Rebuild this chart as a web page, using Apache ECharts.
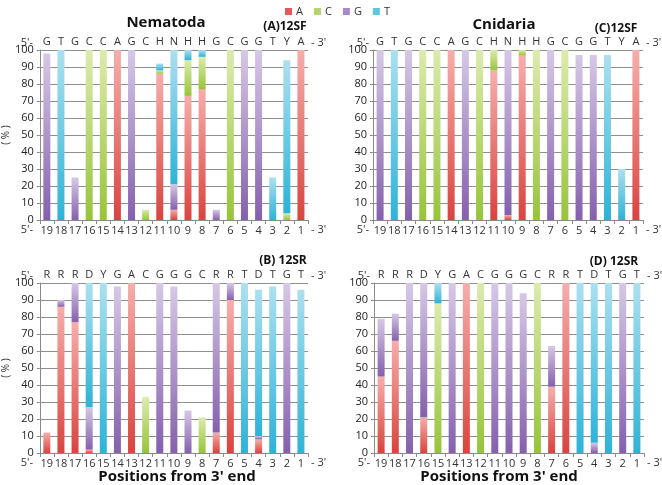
<!DOCTYPE html>
<html><head><meta charset="utf-8">
<script src="https://cdn.jsdelivr.net/npm/echarts@6/dist/echarts.min.js"></script>
<style>html,body{margin:0;padding:0;background:#fff}#c{width:662px;height:485px}</style>
</head><body><div id="c"></div>
<script>
const positions = ['19','18','17','16','15','14','13','12','11','10','9','8','7','6','5','4','3','2','1'];
const seqSF = ['G','T','G','C','C','A','G','C','H','N','H','H','G','C','G','G','T','Y','A'];
const seqSR = ['R','R','R','D','Y','G','A','C','G','G','G','C','R','R','T','D','T','G','T'];
const yTicks = [0,10,20,30,40,50,60,70,80,90,100];
const bases = ['A','C','G','T'];

// (A) Nematoda 12SF
const nemSF_A = [0,0,0,0,0,100,0,0,86,6,73,77,0,0,0,0,0,0,100];
const nemSF_C = [0,0,0,100,100,0,0,6,2,0,21,19,0,100,0,0,0,4,0];
const nemSF_G = [98,0,25,0,0,0,100,0,0,15,0,0,6,0,100,100,0,0,0];
const nemSF_T = [0,100,0,0,0,0,0,0,4,79,6,4,0,0,0,0,25,90,0];
// (C) Cnidaria 12SF
const cniSF_A = [0,0,0,0,0,100,0,0,88,3,97,0,0,0,0,0,0,0,100];
const cniSF_C = [0,0,0,100,100,0,0,100,12,0,3,100,0,100,0,0,0,0,0];
const cniSF_G = [100,0,100,0,0,0,100,0,0,97,0,0,100,0,97,97,0,0,0];
const cniSF_T = [0,100,0,0,0,0,0,0,0,0,0,0,0,0,0,0,97,30,0];
// (B) Nematoda 12SR
const nemSR_A = [12,86,77,2,0,0,100,0,0,0,0,0,12,90,0,8,0,0,0];
const nemSR_C = [0,0,0,0,0,0,0,33,0,0,0,21,0,0,0,0,0,0,0];
const nemSR_G = [0,4,23,25,0,98,0,0,100,98,25,0,88,10,0,2,0,100,0];
const nemSR_T = [0,0,0,73,100,0,0,0,0,0,0,0,0,0,100,86,98,0,96];
// (D) Cnidaria 12SR
const cniSR_A = [45,66,0,21,0,0,100,0,0,0,0,0,39,100,0,0,0,0,0];
const cniSR_C = [0,0,0,0,88,0,0,100,0,0,0,100,0,0,0,0,0,0,0];
const cniSR_G = [34,16,100,79,0,100,0,0,100,100,94,0,24,0,0,6,0,100,0];
const cniSR_T = [0,0,0,0,12,0,0,0,0,0,0,0,0,0,100,94,100,0,100];

const FONT = '"Open Sans", "DejaVu Sans", sans-serif';
const colTop = {A:'#f6aeab', C:'#dcebad', G:'#d6c8e6', T:'#ace0f0'};
const colBot = {A:'#d9443f', C:'#97c43a', G:'#8560ad', T:'#2db3d7'};
const colLegend = {A:'#e05a5a', C:'#b5d56a', G:'#a48ac8', T:'#5fc6e2'};

const panels = [
  {grid:{left:37, top:50, width:271, height:170}, seq:seqSF, data:[nemSF_A,nemSF_C,nemSF_G,nemSF_T], pct:true,
   title:'Nematoda', tx:166, ty:23, sub:'(A)12SF', sx:285, sy:27},
  {grid:{left:373, top:50, width:270, height:170}, seq:seqSF, data:[cniSF_A,cniSF_C,cniSF_G,cniSF_T], pct:false,
   title:'Cnidaria', tx:504, ty:25, sub:'(C)12SF', sx:616, sy:29},
  {grid:{left:37, top:283, width:271, height:170}, seq:seqSR, data:[nemSR_A,nemSR_C,nemSR_G,nemSR_T], pct:true,
   sub:'(B) 12SR', sx:283, sy:261, xname:true, nx:177},
  {grid:{left:374, top:283, width:270, height:170}, seq:seqSR, data:[cniSR_A,cniSR_C,cniSR_G,cniSR_T], pct:false,
   sub:'(D) 12SR', sx:614, sy:262, xname:true, nx:499}
];

const grids=[], xAxes=[], yAxes=[], series=[], graphics=[];
panels.forEach((p,i)=>{
  grids.push(p.grid);
  xAxes.push({type:'category', gridIndex:i, data:positions, position:'bottom',
    axisLine:{show:true, lineStyle:{color:'#8a8a8a', width:1}},
    axisTick:{show:true, length:4, lineStyle:{color:'#8a8a8a'}},
    axisLabel:{color:'#333', fontSize:11, fontFamily:FONT, margin:5, interval:0}});
  xAxes.push({type:'category', gridIndex:i, data:p.seq, position:'top',
    axisLine:{show:false}, axisTick:{show:false},
    axisLabel:{color:'#333', fontSize:11, fontFamily:FONT, margin:3, interval:0}});
  yAxes.push({type:'value', gridIndex:i, min:0, max:100, interval:10,
    name: p.pct ? '( % )' : '', nameLocation:'middle', nameRotate:90, nameGap:28,
    nameTextStyle:{color:'#333', fontSize:10, fontFamily:FONT},
    axisLine:{show:true, lineStyle:{color:'#8a8a8a', width:1}},
    axisTick:{show:true, length:3, lineStyle:{color:'#8a8a8a'}},
    splitLine:{show:true, lineStyle:{color:'#8f8f8f', width:1}},
    axisLabel:{color:'#222', fontSize:11, fontFamily:FONT, margin:6,
      formatter:(v)=> yTicks.includes(v) ? String(v) : ''}});
  bases.forEach((b,k)=>{
    series.push({type:'bar', name:b, xAxisIndex:2*i, yAxisIndex:i, stack:'s'+i,
      barWidth:7, data:p.data[k].map(v=> v===0 ? null : v),
      itemStyle:{color:new echarts.graphic.LinearGradient(0,0,0,1,[
        {offset:0,color:colTop[b]},{offset:1,color:colBot[b]}])},
      emphasis:{disabled:true}});
  });
  const g = p.grid;
  const bottomY = g.top + g.height + 10;
  const topY = g.top - 7;
  const txt = (x,y,t,align,style)=>graphics.push({type:'text', x:x, y:y,
    style:Object.assign({text:t, fill:'#333', font:'11px '+FONT, textAlign:align, textVerticalAlign:'middle'}, style||{})});
  txt(g.left-4, bottomY, "5'-", 'right');
  txt(g.left+g.width+3, bottomY, "- 3'", 'left');
  txt(g.left-4, topY, "5'-", 'right');
  txt(g.left+g.width+3, topY, "- 3'", 'left');
  if (p.title) txt(p.tx, p.ty, p.title, 'center', {font:'bold 15px '+FONT, fill:'#111'});
  txt(p.sx, p.sy, p.sub, 'center', {font:'bold 12px '+FONT, fill:'#111'});
  if (p.xname) txt(p.nx, 477, "Positions from 3' end", 'center', {font:'bold 15px '+FONT, fill:'#111'});
});

const chart = echarts.init(document.getElementById('c'), null, {renderer:'canvas'});
chart.setOption({
  animation:false,
  backgroundColor:'#fff',
  legend:{left:280, top:1, itemWidth:7, itemHeight:7, itemGap:11, icon:'rect',
    textStyle:{color:'#333', fontSize:11, fontFamily:FONT, padding:[0,0,0,-1]},
    data:bases.map(b=>({name:b, itemStyle:{color:colLegend[b]}}))},
  grid:grids, xAxis:xAxes, yAxis:yAxes, series:series, graphic:graphics
});
</script></body></html>
